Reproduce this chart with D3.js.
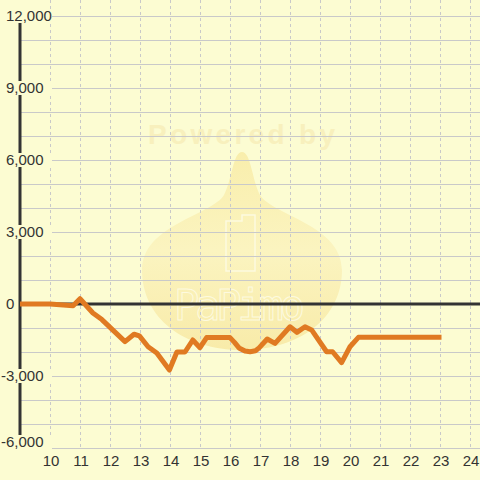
<!DOCTYPE html>
<html>
<head>
<meta charset="UTF-8" />
<title>Chart</title>
<style>
	html, body {
		margin: 0;
		padding: 0;
		overflow: hidden;
		background: #fcfcd2;
		font-family: "Liberation Sans", Arial, sans-serif;
	}
	.grid line { stroke: #c9c9c9; stroke-width: 1; shape-rendering: crispEdges; }
	.vgrid line { stroke-dasharray: 3,3; }
	.lbl { font-size: 15px; fill: #333; }
</style>
<script src="https://d3js.org/d3.v7.min.js"></script>
</head>
<body>
<svg></svg>
<script>
// series
const xValues = [9, 10, 10.33, 10.77, 11, 11.43, 11.73, 12.5, 12.8, 12.98, 13.27, 13.56, 13.98,
	14.23, 14.5, 14.76, 15, 15.22, 16, 16.15, 16.3, 16.5, 16.67, 16.85, 16.97, 17.24, 17.5, 18, 18.23,
	18.5, 18.72, 19.22, 19.42, 19.72, 20, 20.28, 23.05];
const yValues = [0, 0, -30, -70, 220, -375, -650, -1570, -1260, -1330, -1780, -2040, -2750,
	-2000, -2000, -1500, -1820, -1400, -1400, -1600, -1830, -1960, -1990, -1950, -1830, -1460, -1640, -950, -1180,
	-950, -1080, -1990, -1990, -2440, -1780, -1390, -1390];

const xTicks = d3.range(10, 25);
const yTicks = [12000, 9000, 6000, 3000, 0, -3000, -6000];
const yGridValues = d3.range(-6000, 12001, 1000);

const W = 480, H = 480;
const bg = '#fcfcd2';
const svg = d3.select('svg').attr('width', W).attr('height', H);

const x = d3.scaleLinear().domain([9, 24 + 1 / 3]).range([20, 480]);
const y = d3.scaleLinear().domain([-6000, 12000]).range([448, 16]);

// watermark
const defs = svg.append('defs');
const grad = defs.append('linearGradient').attr('id', 'wm').attr('x1', 0).attr('y1', 0).attr('x2', 0).attr('y2', 1);
grad.append('stop').attr('offset', 0).attr('stop-color', '#f9eeac');
grad.append('stop').attr('offset', 0.5).attr('stop-color', '#fbf4c0');
grad.append('stop').attr('offset', 1).attr('stop-color', '#f8eba9');

const wm = svg.append('g').attr('class', 'watermark');
wm.append('path')
	.attr('d', 'M242,152 C251,152 252,180 260,195 C272,215 342,225 342,270 C342,318 300,350 242,350 C184,350 142,318 142,270 C142,225 212,215 224,195 C232,180 233,152 242,152 Z')
	.attr('fill', 'url(#wm)');
wm.append('text')
	.attr('x', 148).attr('y', 144)
	.attr('textLength', 187)
	.attr('font-size', 28).attr('font-weight', 'bold')
	.attr('fill', '#f8f0bd')
	.text('Powered by');
wm.append('path')
	.attr('d', 'M226,221 L242,221 L242,215 L255,215 L255,271 L226,271 Z')
	.attr('fill', 'none').attr('stroke', '#fdfadf').attr('stroke-width', 1.5);
wm.append('text')
	.attr('x', 174).attr('y', 320)
	.attr('textLength', 131)
	.attr('font-size', 42).attr('font-family', '"DejaVu Sans Mono", monospace')
	.attr('fill', 'none').attr('stroke', '#fdfadf').attr('stroke-width', 1)
	.text('PaPimo');

// grid
svg.append('g').attr('class', 'grid vgrid')
	.selectAll('line').data(xTicks).enter().append('line')
	.attr('x1', d => x(d)).attr('x2', d => x(d))
	.attr('y1', 0).attr('y2', y(-6000));

svg.append('g').attr('class', 'grid')
	.selectAll('line').data(yGridValues).enter().append('line')
	.attr('x1', x(9)).attr('x2', W)
	.attr('y1', d => y(d)).attr('y2', d => y(d));

// axis and zero line
svg.append('line')
	.attr('x1', x(9)).attr('x2', x(9))
	.attr('y1', y(12000)).attr('y2', y(-6000))
	.attr('stroke', '#333').attr('stroke-width', 3);
svg.append('line')
	.attr('x1', x(9)).attr('x2', W)
	.attr('y1', y(0)).attr('y2', y(0))
	.attr('stroke', '#333').attr('stroke-width', 3);

// y labels with background boxes
const yl = svg.append('g').selectAll('g').data(yTicks).enter().append('g')
	.attr('transform', d => `translate(0,${Math.min(y(d), 442)})`);
yl.append('rect')
	.attr('x', 0).attr('y', -7).attr('width', d => d === 0 ? 18 : 52).attr('height', 14)
	.attr('fill', bg);
yl.append('text')
	.attr('class', 'lbl')
	.attr('x', d => d < 0 ? 1 : 6)
	.attr('dy', '0.36em')
	.text(d => d3.format(',')(d).replace('−', '-'));

// x labels
svg.append('g').selectAll('text').data(xTicks).enter().append('text')
	.attr('class', 'lbl')
	.attr('x', d => x(d) + 1)
	.attr('y', 466)
	.attr('text-anchor', 'middle')
	.text(d => d);

// series
const pts = xValues.map((v, i) => [v, yValues[i]]);
svg.append('path')
	.datum(pts)
	.attr('d', d3.line().x(d => x(d[0])).y(d => y(d[1])))
	.attr('fill', 'none')
	.attr('stroke', '#e07a22')
	.attr('stroke-width', 5)
	.attr('stroke-linejoin', 'round');
</script>
</body>
</html>
